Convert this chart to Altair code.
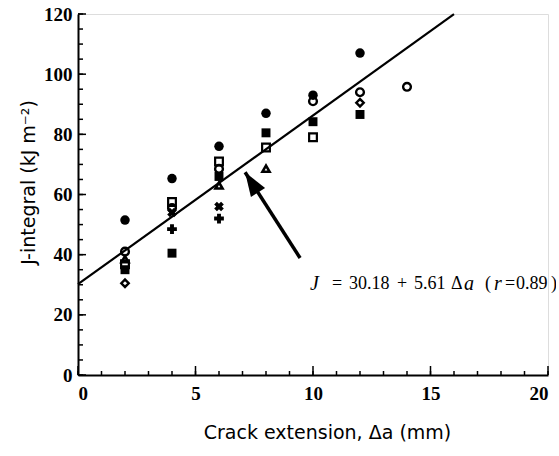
import altair as alt
import pandas as pd

# ---- data ----
circle_filled_x = [2, 4, 6, 8, 10, 12]
circle_filled_J = [51.5, 65.3, 76.0, 87.0, 93.0, 107.0]

circle_open_x = [2, 4, 6, 10, 12, 14]
circle_open_J = [41.0, 55.5, 68.5, 91.0, 94.0, 95.8]

square_filled_x = [2, 4, 6, 8, 10, 12]
square_filled_J = [35.0, 40.5, 66.0, 80.5, 84.2, 86.6]

square_open_x = [2, 4, 6, 8, 10]
square_open_J = [36.8, 57.5, 71.0, 75.6, 79.0]

triangle_x = [2, 6, 8]
triangle_J = [38.5, 63.0, 68.6]

cross_x = [4, 6]
cross_J = [54.0, 56.0]

plus_x = [4, 6]
plus_J = [48.5, 52.0]

diamond_x = [2, 12]
diamond_J = [30.5, 90.5]

fit_intercept = 30.18
fit_slope = 5.61
fit_x = [0, 16.0]

x_ticks_major = [0, 5, 10, 15, 20]
x_ticks_minor = list(range(0, 21))
y_ticks_major = [0, 20, 40, 60, 80, 100, 120]
y_ticks_minor = list(range(0, 121, 5))

arrow_tail = (9.45, 38.9)
arrow_tip = (7.11, 67.4)

eq_text = ["J", "=", "30.18", "+", "5.61", "Δ", "a", "(", "r", "=", "0.89", ")"]
eq_italic = [True, False, False, False, False, False, True, False, True, False, False, False]
eq_px = [310, 332, 349, 397, 414, 451, 464, 485, 494, 505, 516, 551]

W, H = 470, 361
xs = alt.Scale(domain=[0, 20], nice=False, zero=True)
ys = alt.Scale(domain=[0, 120], nice=False, zero=True)

AX_FONT = "Liberation Serif"
TITLE_FONT = "DejaVu Sans"


def pts(xv, yv, shape, filled, size, sw=1.0, angle=0):
    df = pd.DataFrame({"x": xv, "J": yv})
    return alt.Chart(df).mark_point(
        shape=shape, filled=filled, size=size, color="black",
        strokeWidth=sw, opacity=1, angle=angle,
    ).encode(x=alt.X("x:Q", scale=xs), y=alt.Y("J:Q", scale=ys))


axis_df = pd.DataFrame({"x": [0], "J": [0]})
base = alt.Chart(axis_df).mark_point(opacity=0).encode(
    x=alt.X("x:Q", scale=xs, axis=alt.Axis(
        title="Crack extension, Δa (mm)", values=x_ticks_major, ticks=False,
        labelFont=AX_FONT, labelFontSize=19, labelFontWeight="bold", labelColor="black",
        labelPadding=9, domainColor="black", domainWidth=2, grid=False,
        titleFont=TITLE_FONT, titleFontSize=19, titleFontWeight="normal", titleColor="black",
        titleX=249, titleY=57, titleBaseline="middle", titleAlign="center",
    )),
    y=alt.Y("J:Q", scale=ys, axis=alt.Axis(
        title="J-integral (kJ m⁻²)", values=y_ticks_major, ticks=False,
        labelFont=AX_FONT, labelFontSize=19, labelFontWeight="bold", labelColor="black",
        labelPadding=6, domainColor="black", domainWidth=2, grid=False,
        titleFont=TITLE_FONT, titleFontSize=19, titleFontWeight="normal", titleColor="black",
        titleX=-50, titleY=168, titleBaseline="middle", titleAlign="center",
    )),
)

ytm = alt.Chart(pd.DataFrame({"v": y_ticks_minor})).mark_rule(color="black", strokeWidth=1.5).encode(
    y=alt.Y("v:Q", scale=ys), x=alt.value(0), x2=alt.value(5))
ytM = alt.Chart(pd.DataFrame({"v": y_ticks_major})).mark_rule(color="black", strokeWidth=1.5).encode(
    y=alt.Y("v:Q", scale=ys), x=alt.value(0), x2=alt.value(8))
xtm = alt.Chart(pd.DataFrame({"v": x_ticks_minor})).mark_rule(color="black", strokeWidth=1.5).encode(
    x=alt.X("v:Q", scale=xs), y=alt.value(H), y2=alt.value(H - 4))
xtM = alt.Chart(pd.DataFrame({"v": x_ticks_major})).mark_rule(color="black", strokeWidth=1.5).encode(
    x=alt.X("v:Q", scale=xs), y=alt.value(H), y2=alt.value(H - 9))

fit_df = pd.DataFrame({"x": fit_x, "J": [fit_intercept + fit_slope * v for v in fit_x]})
fit = alt.Chart(fit_df).mark_line(color="black", strokeWidth=2.2).encode(
    x=alt.X("x:Q", scale=xs), y=alt.Y("J:Q", scale=ys))

arr_df = pd.DataFrame({"x": [arrow_tail[0], arrow_tip[0]], "J": [arrow_tail[1], arrow_tip[1]], "o": [0, 1]})
shaft = alt.Chart(arr_df).mark_line(color="black", strokeWidth=3.5).encode(
    x=alt.X("x:Q", scale=xs), y=alt.Y("J:Q", scale=ys), order="o:Q")
head = alt.Chart(pd.DataFrame({"x": [arrow_tip[0]], "J": [arrow_tip[1]]})).mark_point(
    shape="M0,0L0.7,2L-0.7,2Z", filled=True, size=576, color="black", opacity=1, angle=327.4,
).encode(x=alt.X("x:Q", scale=xs), y=alt.Y("J:Q", scale=ys))

eq_df = pd.DataFrame({"t": eq_text, "px": [p - 78 for p in eq_px], "it": eq_italic})
eq_norm = alt.Chart(eq_df[~eq_df["it"]]).mark_text(
    font="Liberation Serif", fontSize=18, align="left", baseline="middle", color="black",
).encode(x=alt.X("px:Q", scale=None), y=alt.value(284 - 14), text="t:N")
eq_it = alt.Chart(eq_df[eq_df["it"]]).mark_text(
    font="Liberation Serif", fontSize=20, fontStyle="italic", align="left", baseline="middle", color="black",
).encode(x=alt.X("px:Q", scale=None), y=alt.value(284 - 14), text="t:N")

layers = [
    base, ytm, ytM, xtm, xtM, fit, shaft, head,
    pts(circle_filled_x, circle_filled_J, "circle", True, 90),
    pts(circle_open_x, circle_open_J, "circle", False, 60, 2.4),
    pts(square_filled_x, square_filled_J, "square", True, 80),
    pts(square_open_x, square_open_J, "square", False, 60, 2.2),
    pts(triangle_x, triangle_J, "triangle-up", False, 50, 2.6),
    pts(cross_x, cross_J, "cross", True, 95, 0.6, 45),
    pts(plus_x, plus_J, "cross", True, 95, 0.6),
    pts(diamond_x, diamond_J, "diamond", False, 55, 2.4),
    eq_norm, eq_it,
]

chart = alt.layer(*layers).properties(
    width=W, height=H,
    autosize=alt.AutoSizeParams(type="none"),
    padding={"left": 78, "top": 14, "right": 8, "bottom": 81},
).configure_view(stroke=None).configure(background="white")

chart.save("out.html", embed_options={"renderer": "svg", "actions": False})
